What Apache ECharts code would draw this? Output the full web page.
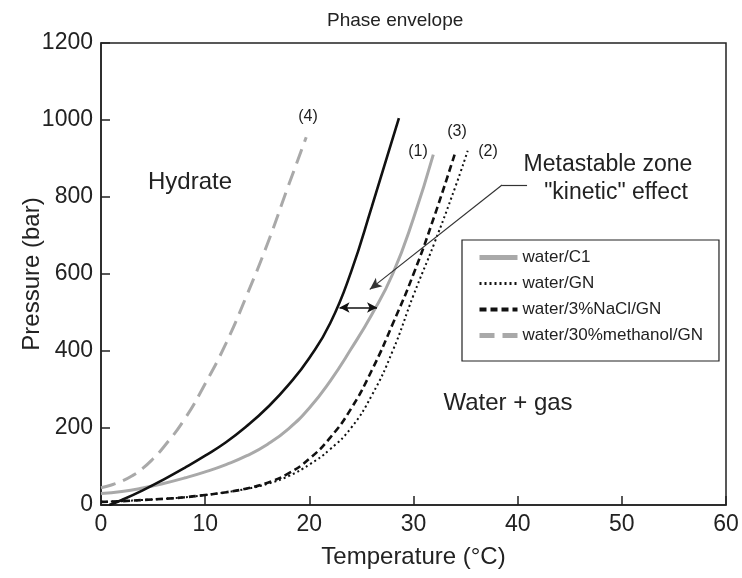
<!DOCTYPE html>
<html>
<head>
<meta charset="utf-8">
<title>Phase envelope</title>
<script src="https://cdn.jsdelivr.net/npm/echarts@6/dist/echarts.min.js"></script>
<style>
  html, body { margin: 0; padding: 0; background: #fff; }
  #chart { width: 742px; height: 578px; }
</style>
</head>
<body>
<div id="chart"></div>
<script>
// [temperature (°C), pressure (bar)]
const c1Data = [[0, 30], [2, 35], [4, 44], [6, 56], [8, 70], [10, 86], [12, 105], [14, 128], [16, 158],
  [18, 198], [20, 252], [22, 322], [24, 405], [26, 495], [28, 600], [30, 745], [31.9, 910]];
const gnData = [[0, 8], [2, 10], [4, 13], [6, 16], [8, 20], [10, 26], [12, 33], [14, 42], [16, 55],
  [18, 75], [20, 105], [22, 145], [24, 200], [26, 285], [28, 400], [30, 545], [32, 680], [34, 825], [35.2, 920]];
const naclData = [[0, 8], [2, 10], [4, 13], [6, 16], [8, 20], [10, 26], [12, 33], [14, 43], [16, 58],
  [18, 82], [20, 120], [22, 175], [24, 250], [26, 350], [28, 470], [30, 600], [32, 750], [34, 915]];
const methanolData = [[0, 45], [1, 52], [2, 62], [3, 76], [4, 95], [5, 120], [6, 150], [8, 222],
  [10, 315], [12, 420], [14, 545], [16, 680], [18, 830], [19.7, 955]];
// kinetic boundary (black solid, not in legend)
const kineticData = [[0.8, 0], [2, 13], [4, 38], [6, 66], [8, 96], [10, 128], [12, 163], [14, 205],
  [16, 254], [18, 312], [20, 382], [22, 472], [24, 605], [26, 775], [28.6, 1005]];

const seriesNames = ['water/C1', 'water/GN', 'water/3%NaCl/GN', 'water/30%methanol/GN'];
const xTicks = { min: 0, max: 60, interval: 10 };
const yTicks = { min: 0, max: 1200, interval: 200 };

// annotation arrows, in data units
const pointerPath = [[40.9, 831], [38.5, 831], [25.8, 560]];
const kineticGap = [[22.9, 513], [26.5, 513]];

const FONT = 'Liberation Sans, Arial, sans-serif';
const GRAY = '#a9a9a9';

const chart = echarts.init(document.getElementById('chart'));

function textEl(text, x, y, size) {
  return {
    type: 'text',
    x: x,
    y: y,
    style: {
      text: text,
      fontSize: size,
      fontFamily: FONT,
      fill: '#222',
      align: 'center',
      verticalAlign: 'middle',
    },
  };
}

function curve(name, data, color, width, type) {
  return {
    name: name,
    type: 'line',
    data: data,
    symbol: 'none',
    smooth: 0.5,
    lineStyle: { color: color, width: width, type: type || 'solid' },
    itemStyle: { color: color },
  };
}

const kinetic = curve('kinetic', kineticData, '#111', 2.6);
kinetic.markLine = {
  silent: true,
  label: { show: false },
  data: [
    [
      { coord: pointerPath[0], symbol: 'none', lineStyle: { color: '#333', width: 1.2, type: 'solid' } },
      { coord: pointerPath[1], symbol: 'none' },
    ],
    [
      { coord: pointerPath[1], symbol: 'none', lineStyle: { color: '#333', width: 1.2, type: 'solid' } },
      { coord: pointerPath[2], symbol: 'arrow', symbolSize: [8, 12] },
    ],
    [
      { coord: kineticGap[0], symbol: 'arrow', symbolSize: [8, 10], lineStyle: { color: '#111', width: 1.5, type: 'solid' } },
      { coord: kineticGap[1], symbol: 'arrow', symbolSize: [8, 10] },
    ],
  ],
};

// thicker samples in the legend box, as in the figure
const legendWidths = [5, 3, 4, 5];

chart.setOption({
  animation: false,
  title: {
    text: 'Phase envelope',
    left: 322,
    top: 6,
    textStyle: { fontSize: 19, fontWeight: 'normal', color: '#222', fontFamily: FONT },
  },
  grid: {
    left: 101,
    right: 16,
    top: 43,
    bottom: 73,
    outerBoundsMode: 'none',
    show: true,
    borderColor: '#222',
    borderWidth: 1.5,
  },
  legend: {
    data: seriesNames.map((name, i) => ({ name: name, lineStyle: { width: legendWidths[i] } })),
    orient: 'vertical',
    left: 462,
    top: 240,
    padding: [9, 16, 17, 15],
    itemGap: 9,
    itemWidth: 38,
    itemHeight: 14,
    itemStyle: { opacity: 0 },
    borderColor: '#222',
    borderWidth: 1.2,
    textStyle: { fontSize: 17, color: '#222', fontFamily: FONT },
  },
  xAxis: {
    type: 'value',
    min: xTicks.min,
    max: xTicks.max,
    interval: xTicks.interval,
    name: 'Temperature (°C)',
    nameLocation: 'middle',
    nameGap: 40,
    nameTextStyle: { fontSize: 24, color: '#222', fontFamily: FONT },
    axisLine: { lineStyle: { color: '#222', width: 1.5 } },
    axisTick: { inside: true, length: 9, lineStyle: { color: '#222', width: 1.5 } },
    axisLabel: { fontSize: 23, color: '#222', fontFamily: FONT, margin: 8 },
    splitLine: { show: false },
  },
  yAxis: {
    type: 'value',
    min: yTicks.min,
    max: yTicks.max,
    interval: yTicks.interval,
    name: 'Pressure (bar)',
    nameLocation: 'middle',
    nameGap: 57,
    nameMoveOverlap: false,
    nameTextStyle: { fontSize: 24, color: '#222', fontFamily: FONT },
    axisLine: { lineStyle: { color: '#222', width: 1.5 } },
    axisTick: { inside: true, length: 9, lineStyle: { color: '#222', width: 1.5 } },
    axisLabel: { fontSize: 23, color: '#222', fontFamily: FONT, margin: 8, formatter: (v) => String(v) },
    splitLine: { show: false },
  },
  series: [
    curve('water/C1', c1Data, GRAY, 3),
    curve('water/GN', gnData, '#111', 2, [2, 3]),
    curve('water/3%NaCl/GN', naclData, '#111', 2.6, [7, 4]),
    curve('water/30%methanol/GN', methanolData, GRAY, 3, [15, 8]),
    kinetic,
  ],
  graphic: [
    textEl('Hydrate', 190, 182, 24),
    textEl('Water + gas', 508, 403, 24),
    textEl('Metastable zone', 608, 165, 23),
    textEl('"kinetic" effect', 616, 193, 23),
    textEl('(4)', 308, 117, 16),
    textEl('(1)', 418, 152, 16),
    textEl('(3)', 457, 132, 16),
    textEl('(2)', 488, 152, 16),
  ],
});
</script>
</body>
</html>
